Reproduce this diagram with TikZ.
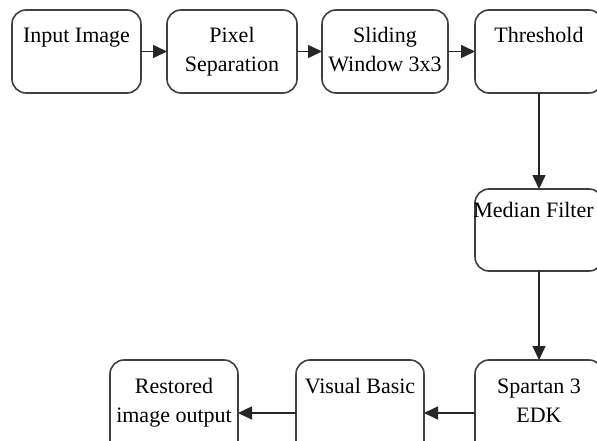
\documentclass[tikz,border=0pt]{standalone}
\usepackage{fontspec}
\setmainfont{Liberation Serif}
\usetikzlibrary{arrows.meta}
\tikzset{
  blk/.style={draw=black!75, line width=1.6pt, rounded corners=14pt, fill=white,
    inner sep=0pt, outer sep=0pt, font=\fontsize{22}{29}\selectfont},
  conn/.style={line width=1.6pt, draw=black!85, -{Triangle[length=14pt,width=13pt]}},
}
\newcommand{\blktext}[4]{\parbox[t][#2][t]{#1}{\centering\rule{0pt}{#3}#4\par}}
\begin{document}
\begin{tikzpicture}[x=1pt,y=-1pt]
  \useasboundingbox (0,0) rectangle (597,441);
  \clip (0,0) rectangle (597,441);
  % top row
  \node[blk] (b1) at (76.5,51.5) {\blktext{129pt}{83pt}{33pt}{Input Image}};
  \node[blk] (b2) at (232,51.5) {\blktext{130pt}{83pt}{33pt}{Pixel\\Separation}};
  \node[blk] (b3) at (385,51.5) {\blktext{126pt}{83pt}{33pt}{Sliding\\Window 3x3}};
  \node[blk] (b4) at (539,51.5) {\blktext{128pt}{83pt}{33pt}{Threshold}};
  % middle
  \node[blk] (med) at (539,230) {\blktext{128pt}{82pt}{28pt}{\hspace*{-11pt}Median Filter}};
  % bottom row
  \node[blk] (spa) at (539,413) {\blktext{128pt}{106pt}{33pt}{Spartan 3\\EDK}};
  \node[blk] (vis) at (360,413) {\blktext{128pt}{106pt}{33pt}{Visual Basic}};
  \node[blk] (res) at (174,413) {\blktext{128pt}{106pt}{33pt}{Restored\\image output}};
  % connectors
  \draw[conn] (b1) -- (b2);
  \draw[conn] (b2) -- (b3);
  \draw[conn] (b3) -- (b4);
  \draw[conn] (b4) -- (med);
  \draw[conn] (med) -- (spa);
  \draw[conn] (spa) -- (vis);
  \draw[conn] (vis) -- (res);
\end{tikzpicture}
\end{document}
